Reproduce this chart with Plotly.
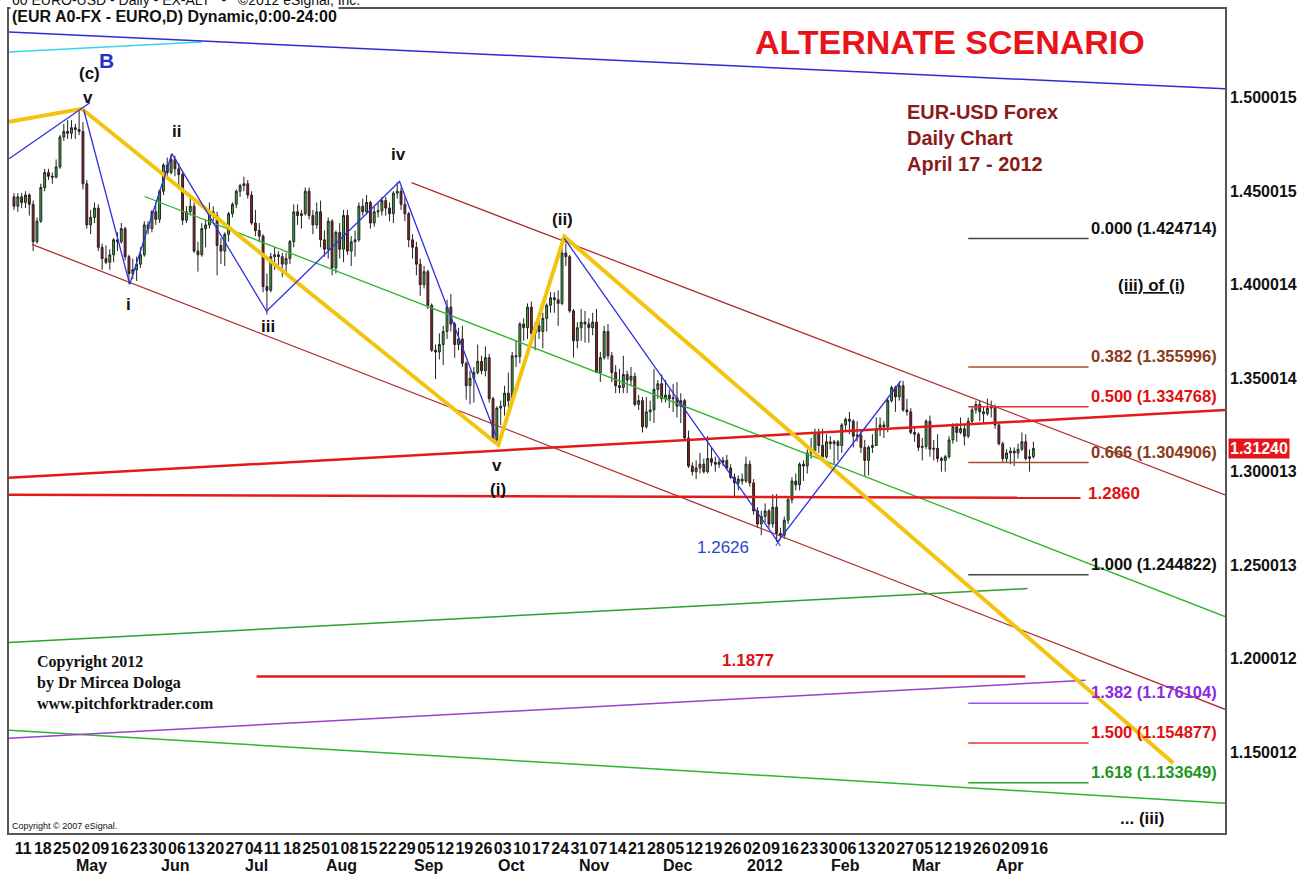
import pandas as pd
import plotly.graph_objects as go

# ---------------- DATA ----------------
dates = pd.bdate_range("2011-04-11", "2012-04-17")  # daily EUR/USD, Mon-Fri

# prices in pips (price * 10000)
opens = [
    14470,14420,14470,14440,14480,14430,14230,14340,14520,14600,
    14580,14575,14630,14790,14820,14810,14840,14830,14820,14540,
    14320,14360,14410,14200,14140,14120,14160,14240,14230,14300,
    14150,14060,14080,14110,14160,14320,14300,14390,14350,14500,
    14640,14600,14670,14620,14590,14345,14390,14420,14180,14160,
    14300,14320,14390,14370,14210,14180,14270,14380,14430,14500,
    14530,14540,14480,14330,14290,14260,13990,13970,14150,14160,
    14150,14110,14140,14230,14390,14370,14380,14500,14370,14320,
    14390,14240,14190,14340,14090,14280,14190,14370,14180,14230,
    14240,14420,14390,14440,14330,14390,14395,14450,14410,14380,
    14490,14500,14430,14380,14240,14200,14110,14000,14070,13890,
    13650,13640,13680,13750,13880,13790,13680,13710,13580,13460,
    13500,13530,13590,13540,13610,13390,13170,13340,13350,13420,
    13380,13620,13615,13790,13770,13880,13740,13780,13750,13820,
    13890,13930,13920,13900,14170,14150,13860,13700,13770,13800,
    13790,13770,13800,13530,13610,13750,13620,13530,13460,13450,
    13520,13490,13510,13360,13380,13240,13320,13330,13440,13470,
    13390,13410,13390,13395,13350,13380,13180,13030,13000,13020,
    13040,13000,13070,13050,13040,13050,13060,13020,12970,12940,
    12960,12950,13040,12940,12790,12720,12760,12790,12720,12810,
    12670,12660,12740,12850,12950,12930,13040,13030,13100,13110,
    13210,13140,13080,13160,13150,13160,13140,13250,13280,13270,
    13190,13195,13130,13060,13130,13140,13230,13250,13240,13380,
    13450,13400,13460,13330,13320,13210,13200,13130,13135,13270,
    13120,13125,13070,13060,13080,13170,13240,13210,13230,13190,
    13270,13330,13360,13320,13310,13340,13345,13250,13150,13070,
    13100,13110,13100,13120,13160,13070,13080,
]
highs = [
    14490,14490,14490,14500,14490,14450,14360,14540,14620,14620,
    14600,14670,14800,14860,14880,14880,14860,14940,14870,14560,
    14400,14440,14430,14220,14210,14190,14250,14280,14330,14310,
    14160,14140,14150,14200,14340,14340,14400,14440,14510,14650,
    14680,14697,14690,14650,14600,14420,14470,14440,14230,14330,
    14350,14440,14420,14390,14250,14280,14390,14440,14510,14540,
    14578,14560,14500,14400,14330,14270,14060,14170,14200,14180,
    14170,14170,14240,14430,14430,14400,14520,14520,14400,14440,
    14450,14290,14360,14350,14290,14330,14400,14400,14260,14290,
    14440,14460,14480,14450,14420,14440,14470,14470,14440,14500,
    14548,14520,14470,14390,14270,14230,14140,14100,14080,13900,
    13680,13740,13780,13920,13950,13800,13770,13780,13590,13540,
    13560,13680,13620,13670,13630,13400,13350,13380,13460,13530,
    13640,13700,13800,13820,13900,13910,13800,13850,13850,13900,
    13960,13960,13970,14248,14220,14160,13870,13800,13870,13860,
    13820,13850,13870,13640,13780,13790,13640,13570,13550,13620,
    13540,13560,13530,13410,13400,13400,13380,13550,13490,13520,
    13490,13440,13470,13480,13420,13390,13220,13050,13060,13100,
    13070,13190,13130,13080,13070,13080,13090,13040,12990,12980,
    12990,13080,13060,12960,12810,12790,12830,12800,12880,12880,
    12700,12760,12860,12970,12990,13050,13060,13120,13180,13230,
    13230,13230,13200,13190,13170,13170,13260,13290,13320,13280,
    13270,13220,13170,13140,13200,13290,13290,13270,13390,13460,
    13460,13480,13486,13390,13340,13240,13210,13180,13280,13300,
    13170,13200,13080,13090,13190,13260,13260,13290,13250,13290,
    13350,13380,13380,13350,13390,13380,13360,13260,13160,13120,
    13130,13130,13150,13210,13200,13120,13160,
]
lows = [
    14400,14390,14410,14410,14370,14180,14220,14330,14500,14560,
    14540,14570,14620,14770,14780,14780,14780,14800,14510,14300,
    14270,14330,14180,14080,14110,14080,14120,14180,14220,14130,
    14005,14030,14020,14090,14150,14270,14280,14320,14330,14480,
    14580,14590,14580,14510,14320,14330,14370,14170,14070,14150,
    14200,14300,14340,14050,14110,14100,14230,14360,14410,14470,
    14500,14460,14320,14260,14230,13960,13840,13960,14080,14080,
    14040,14060,14110,14200,14320,14300,14370,14350,14270,14300,
    14200,14150,14140,14050,14060,14140,14120,14160,14100,14150,
    14230,14370,14380,14300,14310,14360,14370,14370,14340,14330,
    14460,14400,14340,14200,14140,14050,13940,13980,13870,13640,
    13495,13600,13570,13710,13750,13610,13650,13560,13385,13360,
    13370,13520,13520,13510,13370,13160,13146,13250,13300,13340,
    13370,13560,13580,13700,13710,13700,13650,13710,13660,13750,
    13850,13850,13780,13890,14100,13850,13610,13660,13700,13690,
    13690,13730,13530,13480,13600,13600,13480,13420,13420,13420,
    13420,13460,13350,13330,13210,13230,13270,13260,13390,13370,
    13370,13340,13320,13290,13260,13170,13020,12980,12960,12990,
    12990,12990,13030,13000,13020,13030,13010,12960,12860,12900,
    12930,12940,12920,12770,12700,12660,12730,12700,12700,12624,
    12640,12640,12720,12830,12900,12900,12950,12990,13070,13100,
    13100,13070,13070,13120,13040,13060,13100,13220,13200,13130,
    13160,13100,12975,12980,13100,13140,13190,13180,13210,13370,
    13320,13380,13320,13300,13200,13160,13110,13060,13120,13080,
    13060,13050,13000,13000,13070,13150,13160,13200,13140,13180,
    13260,13310,13270,13260,13300,13290,13230,13140,13050,13050,
    13040,13030,13070,13110,13060,13000,13070,
]
closes = [
    14420,14470,14440,14480,14430,14230,14340,14520,14600,14580,
    14575,14630,14790,14820,14810,14840,14830,14820,14540,14320,
    14360,14410,14200,14140,14120,14160,14240,14230,14300,14150,
    14060,14080,14110,14160,14320,14300,14390,14350,14500,14640,
    14600,14670,14620,14590,14345,14390,14420,14180,14160,14300,
    14320,14390,14370,14210,14180,14270,14380,14430,14500,14530,
    14540,14480,14330,14290,14260,13990,13970,14150,14160,14150,
    14110,14140,14230,14390,14370,14380,14500,14370,14320,14390,
    14240,14190,14340,14090,14280,14190,14370,14180,14230,14240,
    14420,14390,14440,14330,14390,14395,14450,14410,14380,14490,
    14500,14430,14380,14240,14200,14110,14000,14070,13890,13650,
    13640,13680,13750,13880,13790,13680,13710,13580,13460,13500,
    13530,13590,13540,13610,13390,13170,13340,13350,13420,13380,
    13620,13615,13790,13770,13880,13740,13780,13750,13820,13890,
    13930,13920,13900,14170,14150,13860,13700,13770,13800,13790,
    13770,13800,13530,13610,13750,13620,13530,13460,13450,13520,
    13490,13510,13360,13380,13240,13320,13330,13440,13470,13390,
    13410,13390,13395,13350,13380,13180,13030,13000,13020,13040,
    13000,13070,13050,13040,13050,13060,13020,12970,12940,12960,
    12950,13040,12940,12790,12720,12760,12790,12720,12810,12670,
    12660,12740,12850,12950,12930,13040,13030,13100,13110,13210,
    13140,13080,13160,13150,13160,13140,13250,13280,13270,13190,
    13195,13130,13060,13130,13140,13230,13250,13240,13380,13450,
    13400,13460,13330,13320,13210,13200,13130,13135,13270,13120,
    13125,13070,13060,13080,13170,13240,13210,13230,13190,13270,
    13330,13360,13320,13310,13340,13345,13250,13150,13070,13100,
    13110,13100,13120,13160,13070,13080,13124,
]
PIP = 10000.0

# y-axis tick labels (as printed by the charting package)
y_tick_vals = [1.500015, 1.450015, 1.400014, 1.350014, 1.300013, 1.250013, 1.200012, 1.150012]
y_tick_text = ["1.500015", "1.450015", "1.400014", "1.350014", "1.300013", "1.250013", "1.200012", "1.150012"]
month_labels = ["May", "Jun", "Jul", "Aug", "Sep", "Oct", "Nov", "Dec", "2012", "Feb", "Mar", "Apr"]
last_price = 1.31240

# drawn studies: x = trading-day index from 2011-04-11, y = price
blue_top_x, blue_top_y = [-1.3, 316.0], [1.5352, 1.5048]
cyan_x, cyan_y = [-1.3, 49.0], [1.5245, 1.5299]
yellow_x = [-1.3, 17.7, 126.4, 143.6, 302.5]
yellow_y = [1.4872, 1.4941, 1.3143, 1.4258, 1.1441]
blue_lead_x, blue_lead_y = [-1.3, 19.8], [1.4674, 1.4973]
blue_w1_x = [18.2, 30.2, 41.2, 65.9, 100.6, 125.8]
blue_w1_y = [1.4936, 1.4002, 1.4701, 1.3858, 1.4552, 1.3191]
blue_w2_x = [143.6, 199.3, 231.4]
blue_w2_y = [1.4248, 1.2626, 1.3485]
chan_low_x, chan_low_y = [4.7, 316.0], [1.4216, 1.1729]
chan_up_x, chan_up_y = [103.7, 316.0], [1.4546, 1.2876]
green_mid_x, green_mid_y = [34.1, 316.0], [1.4472, 1.2225]
green_rise_x, green_rise_y = [-1.3, 264.5], [1.2086, 1.2375]
green_bot_x, green_bot_y = [-1.3, 316.0], [1.1617, 1.1227]
purple_x, purple_y = [-1.3, 279.6], [1.1574, 1.1884]
red_rise_x, red_rise_y = [-1.3, 316.0], [1.2967, 1.3330]
red_1286_x, red_1286_y = [-1.3, 278.3], [1.2876, 1.2860]
red_1188_x, red_1188_y = [63.3, 263.9], [1.1905, 1.1905]

fib_ratios = ["0.000", "0.382", "0.500", "0.666", "1.000", "1.382", "1.500", "1.618"]
fib_prices = [1.424714, 1.355996, 1.334768, 1.304906, 1.244822, 1.176104, 1.154877, 1.133649]
fib_x = [249.0, 280.4]

wave_text = ["(c)", "v", "ii", "i", "iii", "iv", "(ii)", "v", "(i)"]
wave_x = [19.8, 19.3, 42.5, 30.0, 66.2, 100.3, 143.0, 126.1, 126.4]
wave_y = [1.5128, 1.5000, 1.4819, 1.3895, 1.3778, 1.4696, 1.4349, 1.3031, 1.2903]
low_label = "1.2626"
low_x, low_y = 199.3, 1.2626

# ---------------- STYLE ----------------
SANS = "Liberation Sans, Arial, sans-serif"
SERIF = "Liberation Serif, Times New Roman, serif"

x_idx = list(range(len(dates)))

fig = go.Figure()
fig.add_trace(go.Candlestick(
    x=x_idx,
    open=[v / PIP for v in opens], high=[v / PIP for v in highs],
    low=[v / PIP for v in lows], close=[v / PIP for v in closes],
    increasing=dict(fillcolor="#33b533", line=dict(color="#222222", width=1)),
    decreasing=dict(fillcolor="#a01818", line=dict(color="#222222", width=1)),
    whiskerwidth=0, showlegend=False, hoverinfo="skip",
))


def add_line(xs, ys, color, width):
    fig.add_trace(go.Scatter(x=xs, y=ys, mode="lines", line=dict(color=color, width=width),
                             showlegend=False, hoverinfo="skip"))


add_line(cyan_x, cyan_y, "#33d6e6", 1.5)
add_line(blue_top_x, blue_top_y, "#2e2ed0", 1.5)
add_line(chan_low_x, chan_low_y, "#b03030", 1.3)
add_line(chan_up_x, chan_up_y, "#b03030", 1.3)
add_line(green_mid_x, green_mid_y, "#2fb52f", 1.3)
add_line(green_rise_x, green_rise_y, "#2fa02f", 1.5)
add_line(green_bot_x, green_bot_y, "#2fb52f", 1.5)
add_line(purple_x, purple_y, "#9a40c8", 1.5)
add_line(red_rise_x, red_rise_y, "#e41a1a", 2.5)
add_line(red_1286_x, red_1286_y, "#e41a1a", 2.5)
add_line(red_1188_x, red_1188_y, "#e41a1a", 2.5)
add_line(yellow_x, yellow_y, "#f2c40f", 4)
add_line(blue_lead_x, blue_lead_y, "#3030e0", 1.3)
add_line(blue_w1_x, blue_w1_y, "#3030e0", 1.3)
add_line(blue_w2_x, blue_w2_y, "#3030e0", 1.3)

fib_line_colors = ["#444444", "#a0522d", "#e83030", "#a0522d", "#444444", "#9b4dff", "#e83030", "#2fa02f"]
fib_text_colors = ["#111111", "#8b3a1a", "#e01010", "#8b3a1a", "#111111", "#8a2be2", "#e01010", "#1e961e"]
for r, p, lc, tc in zip(fib_ratios, fib_prices, fib_line_colors, fib_text_colors):
    add_line(fib_x, [p, p], lc, 1.5)
    fig.add_annotation(x=fib_x[1], y=p, text=f"{r} ({p:.6f})", showarrow=False,
                       xanchor="left", yanchor="middle", xshift=0, yshift=11,
                       font=dict(family=SANS, size=16.5, color=tc, weight="bold"))


def txt(x, y, text, size=17, color="#111111", bold=True, xanchor="center", yanchor="middle",
        family=SANS, xref="x", yref="y", align="center", bg=None):
    fig.add_annotation(x=x, y=y, text=text, showarrow=False, xanchor=xanchor, yanchor=yanchor,
                       xref=xref, yref=yref, align=align, bgcolor=bg,
                       font=dict(family=family, size=size, color=color,
                                 weight="bold" if bold else "normal"))


for t, xx, yy in zip(wave_text, wave_x, wave_y):
    txt(xx, yy, t, size=17)
txt(24.2, 1.5197, "B", size=21, color="#2233cc")
txt(185.0, 1.2593, low_label, size=17, color="#2a45d0", bold=False)
txt(low_x, low_y, "x", size=12, color="#2a45d0", bold=False)
txt(296.8, 1.3997, "<u>(iii) of (i)</u>", size=17)
txt(287.1, 1.2882, "1.2860", size=17, color="#e01010")
txt(191.5, 1.1990, "1.1877", size=17, color="#e01010")
txt(294.4, 1.1147, "... (iii)", size=17)

# paper-positioned texts
txt(0.7742, 0.9600, "ALTERNATE SCENARIO", size=34, color="#e8141c", xref="paper", yref="paper")
txt(0.7365, 0.8910, "EUR-USD Forex<br>Daily Chart<br>April 17 - 2012", size=20, color="#8b1a1a",
    xref="paper", yref="paper", xanchor="left", yanchor="top", align="left")
txt(0.0213, 0.2203, "Copyright 2012<br>by Dr Mircea Dologa<br>www.pitchforktrader.com", size=16,
    color="#111111", family=SERIF, xref="paper", yref="paper", xanchor="left", yanchor="top", align="left")
txt(0.0008, 0.0085, "Copyright \u00a9 2007 eSignal.", size=9, bold=False, xref="paper", yref="paper",
    xanchor="left")
txt(0.0008, 0.9915, "(EUR A0-FX - EURO,D) Dynamic,0:00-24:00", size=16, xref="paper", yref="paper",
    xanchor="left", bg="white")
txt(0.0008, 1.0115, "60 EURO-USD - Daily - EX-ALT   -   \u00a92012 eSignal, Inc.", size=14, bold=False,
    xref="paper", yref="paper", xanchor="left")

# last price tag on the price scale
fig.add_annotation(x=1, y=last_price, xref="paper", yref="y", text=f"{last_price:.5f}", showarrow=False,
                   xanchor="left", yanchor="middle", xshift=3, bgcolor="#e8141c", borderpad=1,
                   font=dict(family=SANS, size=16, color="white", weight="bold"))

# x axis: Mondays as ticks, months as second row
mondays = [i for i, d in enumerate(dates) if d.weekday() == 0]
monday_text = [f"{dates[i].day:02d}" for i in mondays]
month_starts = []
seen = set()
for i, d in enumerate(dates):
    key = (d.year, d.month)
    if key not in seen:
        seen.add(key)
        month_starts.append(i)
month_starts = month_starts[1:]  # first (April 2011) is unlabeled
for lab, i in zip(month_labels, month_starts):
    fig.add_annotation(x=i, y=0, xref="x", yref="paper", text=lab, showarrow=False,
                       xanchor="left", yanchor="top", xshift=3, yshift=-22,
                       font=dict(family=SANS, size=16, color="#111111", weight="bold"))

fig.update_layout(
    width=1313, height=874,
    margin=dict(l=7, r=88, t=7, b=41),
    paper_bgcolor="white", plot_bgcolor="white",
    showlegend=False,
    xaxis=dict(range=[-1.3, 316.0], showgrid=False, zeroline=False,
               tickmode="array", tickvals=mondays, ticktext=monday_text, tickangle=0,
               ticks="", ticklabelposition="outside right",
               tickfont=dict(family=SANS, size=16, color="#111111", weight="bold"),
               showline=True, linecolor="#555555", linewidth=1.5, mirror=True,
               rangeslider=dict(visible=False), fixedrange=True),
    yaxis=dict(side="right", range=[1.10672, 1.54749], showgrid=False, zeroline=False,
               tickmode="array", tickvals=y_tick_vals, ticktext=y_tick_text, ticks="",
               tickfont=dict(family=SANS, size=16, color="#111111", weight="bold"),
               showline=True, linecolor="#555555", linewidth=1.5, mirror=True, fixedrange=True),
)

fig.write_html("out.html", config={"displayModeBar": False},
               post_script="document.body.style.margin='0px';document.body.style.overflow='hidden';")
